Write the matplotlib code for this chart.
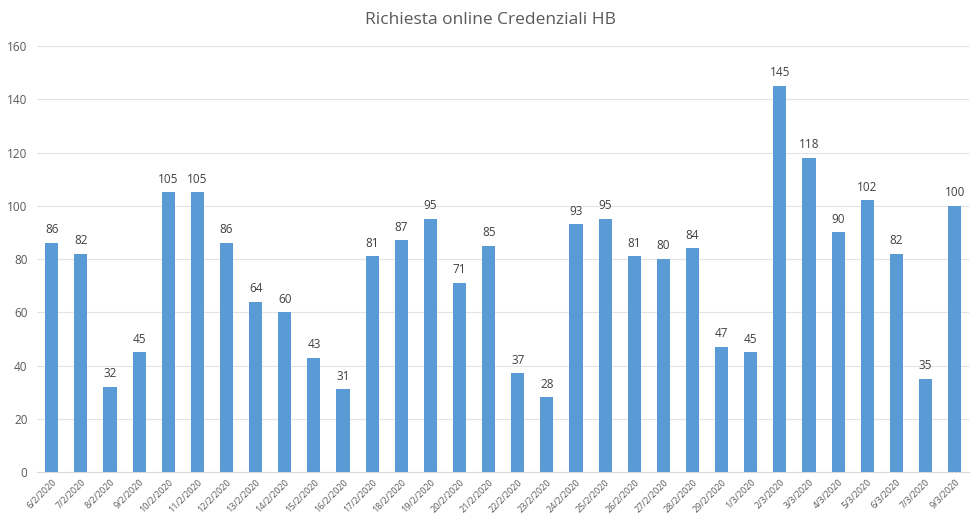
import matplotlib
matplotlib.use("Agg")
import matplotlib.pyplot as plt
import numpy as np

# ==========================================
# Data
# ==========================================

dates = [
    "6/2/2020", "7/2/2020", "8/2/2020", "9/2/2020", "10/2/2020",
    "11/2/2020", "12/2/2020", "13/2/2020", "14/2/2020", "15/2/2020",
    "16/2/2020", "17/2/2020", "18/2/2020", "19/2/2020", "20/2/2020",
    "21/2/2020", "22/2/2020", "23/2/2020", "24/2/2020", "25/2/2020",
    "26/2/2020", "27/2/2020", "28/2/2020", "29/2/2020", "1/3/2020",
    "2/3/2020", "3/3/2020", "4/3/2020", "5/3/2020", "6/3/2020",
    "7/3/2020", "9/3/2020"
]

requests = [
    86, 82, 32, 45, 105,
    105, 86, 64, 60, 43,
    31, 81, 87, 95, 71,
    85, 37, 28, 93, 95,
    81, 80, 84, 47, 45,
    145, 118, 90, 102, 82,
    35, 100
]

y_ticks = [0, 20, 40, 60, 80, 100, 120, 140, 160]

title = "Richiesta online Credenziali HB"

# ==========================================
# Plot
# ==========================================

plt.rcParams["font.family"] = ["Open Sans", "DejaVu Sans"]

fig = plt.figure(figsize=(9.8, 5.23), dpi=100)
ax = fig.add_axes([0.038, 0.0975, 0.951, 0.8145])

x = np.arange(len(dates))

ax.bar(
    x,
    requests,
    width=0.45,
    color="#5B9BD5",
    zorder=3
)

for xi, v in zip(x, requests):
    ax.text(
        xi, v + 2.5, str(v),
        ha="center", va="bottom",
        fontsize=8.5, color="#404040"
    )

ax.set_xlim(-0.5, len(dates) - 0.5)
ax.set_ylim(0, 160)
ax.set_yticks(y_ticks)
ax.set_yticklabels([str(t) for t in y_ticks])

ax.set_xticks(x)
ax.set_xticklabels(
    dates,
    rotation=45,
    ha="right",
    rotation_mode="anchor",
    fontsize=6.5,
    color="#595959"
)

ax.tick_params(axis="y", length=0, labelsize=8.5, labelcolor="#595959", pad=7)
ax.tick_params(axis="x", length=0, pad=4)

ax.grid(axis="y", color="#E3E3E3", linewidth=0.8, zorder=0)

for side in ["top", "right", "left"]:
    ax.spines[side].set_visible(False)
ax.spines["bottom"].set_color("#D9D9D9")

fig.text(
    0.501, 0.962, title,
    ha="center", va="center",
    fontsize=12.5, color="#595959"
)

fig.savefig("out.png", dpi=100)
